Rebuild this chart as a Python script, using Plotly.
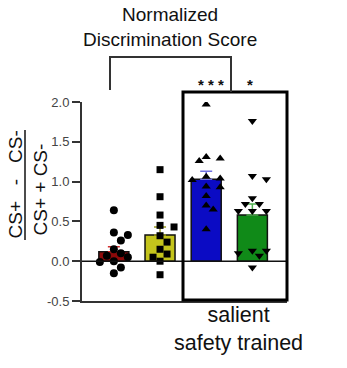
import plotly.graph_objects as go

# Group data: normalized discrimination score (CS+ - CS-)/(CS+ + CS-)
red_pts = [0.64, 0.36, 0.33, 0.26, 0.15, 0.10, 0.07, 0.05, 0.0, -0.01, -0.08, -0.15]
yellow_pts = [1.15, 0.81, 0.58, 0.45, 0.43, 0.32, 0.24, 0.15, 0.09, 0.05, 0.0, -0.17]
blue_pts = [1.97, 1.31, 1.29, 1.26, 1.06, 1.04, 1.02, 0.94, 0.93, 0.82, 0.70, 0.65, 0.40]
green_pts = [1.76, 1.07, 1.03, 0.79, 0.72, 0.72, 0.63, 0.63, 0.63, 0.13, 0.13, 0.10, 0.07, -0.08]

bar_means = [0.12, 0.33, 1.03, 0.58]
bar_sem = [0.06, 0.10, 0.10, 0.14]
y_ticks = [-0.5, 0.0, 0.5, 1.0, 1.5, 2.0]
y_tick_text = ["-0.5", "0.0", "0.5", "1.0", "1.5", "2.0"]

groups = [red_pts, yellow_pts, blue_pts, green_pts]
bar_colors = ["#8e0a0a", "#c4c41c", "#0b0bc4", "#108a18"]
err_colors = ["#d03030", "#9a9a20", "#7070e0", "#50b050"]
symbols = ["circle", "square", "triangle-up", "triangle-down"]
marker_sizes = [8, 7, 8, 8]

# plot-area geometry (pixels)
L, T, W, H = 82, 102, 205, 199
FIG_W, FIG_H = 347, 368
X_RANGE = [-0.69, 3.75]
Y_RANGE = [-0.5, 2.0]
px_per_x = W / (X_RANGE[1] - X_RANGE[0])
px_per_y = H / (Y_RANGE[1] - Y_RANGE[0])


def swarm(values, diam=8.0, step=7.0):
    """Deterministic beeswarm offsets (in x data units) for one column."""
    placed = []
    offs = [0.0] * len(values)
    order = sorted(range(len(values)), key=lambda i: -values[i])
    for i in order:
        yp = values[i] * px_per_y
        k = 0
        while True:
            cands = [0.0] if k == 0 else [k * step, -k * step]
            ok = None
            for c in cands:
                if all((c - px) ** 2 + (yp - py) ** 2 >= diam ** 2 for px, py in placed):
                    ok = c
                    break
            if ok is not None:
                placed.append((ok, yp))
                offs[i] = ok / px_per_x
                break
            k += 1
    return offs


def px_x(p):
    return (p - L) / W


def px_y(p):
    return (T + H - p) / H


fig = go.Figure()

for i, pts in enumerate(groups):
    fig.add_trace(go.Bar(
        x=[i], y=[bar_means[i]], width=0.65,
        marker=dict(color=bar_colors[i], line=dict(color="#111111", width=1.5)),
        error_y=dict(type="data", array=[bar_sem[i]], arrayminus=[0], symmetric=False,
                     color=err_colors[i], thickness=1.5, width=6),
        showlegend=False, hoverinfo="skip",
    ))

for i, pts in enumerate(groups):
    offs = swarm(pts)
    fig.add_trace(go.Scatter(
        x=[i + o for o in offs], y=pts, mode="markers",
        marker=dict(symbol=symbols[i], size=marker_sizes[i], color="#000000",
                    line=dict(width=0)),
        showlegend=False, hoverinfo="skip",
    ))

shapes = [
    # zero line
    dict(type="line", xref="paper", yref="y", x0=0, x1=px_x(287), y0=0, y1=0,
         line=dict(color="#111111", width=1.5)),
    # outlined group box
    dict(type="rect", xref="paper", yref="paper", x0=px_x(183), x1=px_x(287),
         y0=px_y(300), y1=px_y(92), line=dict(color="#000000", width=3)),
    # comparison bracket
    dict(type="path", xref="paper", yref="paper",
         path=f"M {px_x(110)},{px_y(90)} L {px_x(110)},{px_y(57)} "
              f"L {px_x(231)},{px_y(57)} L {px_x(231)},{px_y(92)}",
         line=dict(color="#333333", width=2)),
    # fraction bar of the y-axis title
    dict(type="line", xref="paper", yref="paper", x0=px_x(25), x1=px_x(25),
         y0=px_y(240), y1=px_y(130), line=dict(color="#111111", width=1.5)),
]

font_fam = "Arial, Liberation Sans, sans-serif"
NB = "\u00a0"


def label(text, x, y, size, **kw):
    return dict(text=text, xref="paper", yref="paper", x=px_x(x), y=px_y(y),
                xanchor="center", yanchor="middle", showarrow=False,
                font=dict(size=size, color="#111111", family=font_fam), **kw)


annotations = [
    label("Normalized<br>Discrimination Score", 170, 27, 19),
    label(f"CS+{NB*3}-{NB*3}CS-", 14.5, 185, 19, textangle=-90),
    label("CS+ + CS-", 39.5, 190, 19, textangle=-90),
    label(f"<b>*{NB}*{NB}*</b>", 211, 84, 15),
    label("<b>*</b>", 249.5, 84, 15),
    label("salient<br>safety trained", 238, 328.5, 21.5),
]

fig.update_layout(
    width=FIG_W, height=FIG_H,
    margin=dict(l=L, r=FIG_W - L - W, t=T, b=FIG_H - T - H),
    paper_bgcolor="white", plot_bgcolor="white",
    barmode="overlay",
    shapes=shapes, annotations=annotations,
    xaxis=dict(range=X_RANGE, showgrid=False, zeroline=False, showticklabels=False,
               showline=True, linecolor="#333333", linewidth=2, ticks=""),
    yaxis=dict(range=Y_RANGE, tickvals=y_ticks, ticktext=y_tick_text, showgrid=False,
               zeroline=False, showline=True, linecolor="#333333", linewidth=2,
               ticks="outside", ticklen=8, tickwidth=1.5, tickcolor="#333333",
               tickfont=dict(size=13, color="#444444", family=font_fam)),
)

fig.write_html("out.html")
